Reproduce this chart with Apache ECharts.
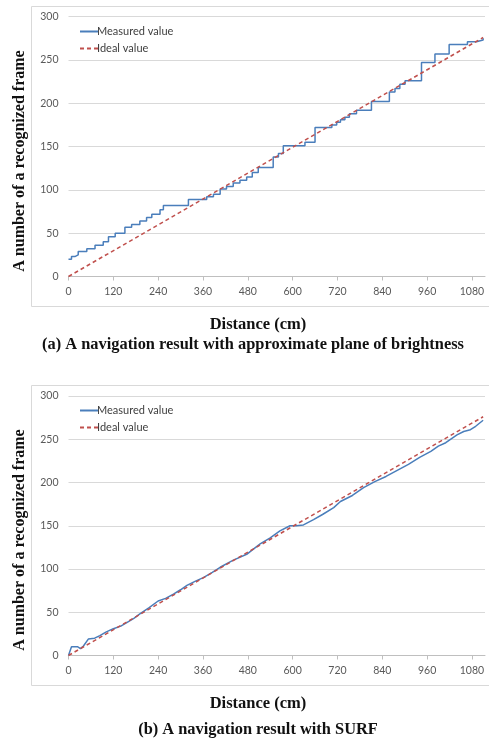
<!DOCTYPE html>
<html>
<head>
<meta charset="utf-8">
<script src="https://cdn.jsdelivr.net/npm/echarts@6/dist/echarts.min.js"></script>
<style>
  html, body { margin: 0; padding: 0; background: #fff; }
  #chart { width: 489px; height: 749px; }
</style>
</head>
<body>
<div id="chart"></div>
<script>
// x tick labels (cm)
const distanceTicks = [0, 120, 240, 360, 480, 600, 720, 840, 960, 1080];

// (a) approximate plane of brightness: measured steps (start of each level)
const distanceA = [0, 8, 17, 26, 49, 71, 93, 107, 125, 151, 169, 191, 209, 223, 245, 254,
  321, 370, 388, 406, 423, 441, 459, 477, 492, 508, 548, 562, 575, 633, 660,
  705, 718, 728, 740, 752, 771, 811, 859, 874, 887, 901, 945, 981, 1019, 1068, 1092, 1110];
const measuredA = [20, 23, 25, 29, 32, 36, 40, 46, 50, 57, 60, 64, 68, 72, 77, 82,
  89, 92, 95, 101, 104, 108, 111, 115, 120, 126, 138, 142, 151, 155, 172,
  175, 178, 181, 184, 188, 192, 202, 213, 217, 222, 226, 247, 257, 268, 271, 273, 275];

// (b) SURF: measured
const distanceB = [0, 8, 25, 32, 40, 53, 70, 84, 100, 120, 140, 156, 175, 191, 215, 240,
  260, 281, 300, 317, 340, 361, 385, 406, 440, 477, 495, 513, 540, 566, 593, 610,
  629, 656, 680, 710, 728, 760, 790, 820, 850, 880, 910, 940, 970, 990, 1010, 1040,
  1058, 1076, 1090, 1110];
const measuredB = [0, 10, 10, 8, 11, 19, 20, 23, 27, 31, 34, 38, 43, 48, 55, 63,
  66, 71, 76, 81, 86, 90, 96, 102, 110, 117, 123, 129, 136, 144, 150, 150,
  151, 157, 163, 171, 178, 185, 194, 201, 207, 214, 221, 229, 236, 242, 246, 255,
  259, 261, 265, 272];

// ideal value: one frame every 4 cm
const idealX = [0, 1110];
const idealY = [0, 276];

const pairs = (xs, ys) => xs.map((x, i) => [x, ys[i]]);

const chart = echarts.init(document.getElementById("chart"));

const blue = "#4a7ebb";
const red = "#c0504d";
const tickFont = { color: "#595959", fontSize: 10.5, fontFamily: "Lato" };
const serifBold = { fontFamily: "Liberation Serif", fontWeight: "bold", fill: "#111" };

const makeX = (gridIndex) => ({
  type: "value",
  gridIndex,
  min: 0,
  max: 1115,
  axisLine: { show: true, lineStyle: { color: "#bfbfbf", width: 1 } },
  axisTick: { show: true, length: 4, lineStyle: { color: "#bfbfbf" }, customValues: distanceTicks },
  axisLabel: { ...tickFont, margin: 10, customValues: distanceTicks, formatter: (v) => String(v) },
  splitLine: { show: false },
});

const makeY = (gridIndex) => ({
  type: "value",
  gridIndex,
  min: 0,
  max: 300,
  interval: 50,
  axisLine: { show: false },
  axisTick: { show: false },
  axisLabel: { ...tickFont, margin: 10 },
  splitLine: { show: true, lineStyle: { color: "#d9d9d9", width: 1 } },
});

const makeLegend = (top) => ({
  top,
  left: 74,
  orient: "vertical",
  itemGap: 6,
  itemWidth: 18,
  itemHeight: 10,
  data: ["Measured value", "Ideal value"],
  itemStyle: { opacity: 0 },
  textStyle: { color: "#404040", fontSize: 11, fontFamily: "Lato", padding: [0, 0, 0, -6] },
});

const option = {
  animation: false,
  grid: [
    { left: 68.5, top: 16.7, right: 4, height: 259.8 },
    { left: 68.5, top: 396, right: 4, height: 259.5 },
  ],
  xAxis: [makeX(0), makeX(1)],
  yAxis: [makeY(0), makeY(1)],
  legend: [makeLegend(21), makeLegend(400)],
  series: [
    {
      name: "Measured value",
      type: "line",
      xAxisIndex: 0,
      yAxisIndex: 0,
      step: "end",
      symbol: "none",
      data: pairs(distanceA, measuredA),
      lineStyle: { color: blue, width: 1.5 },
      itemStyle: { color: blue },
      z: 3,
    },
    {
      name: "Ideal value",
      type: "line",
      xAxisIndex: 0,
      yAxisIndex: 0,
      symbol: "none",
      data: pairs(idealX, idealY),
      lineStyle: { color: red, width: 1.5, type: [4, 3] },
      itemStyle: { color: red },
      z: 4,
    },
    {
      name: "Measured value",
      type: "line",
      xAxisIndex: 1,
      yAxisIndex: 1,
      symbol: "none",
      data: pairs(distanceB, measuredB),
      lineStyle: { color: blue, width: 1.5 },
      itemStyle: { color: blue },
      z: 3,
    },
    {
      name: "Ideal value",
      type: "line",
      xAxisIndex: 1,
      yAxisIndex: 1,
      symbol: "none",
      data: pairs(idealX, idealY),
      lineStyle: { color: red, width: 1.5, type: [4, 3] },
      itemStyle: { color: red },
      z: 4,
    },
  ],
  graphic: [
    // chart frames
    { type: "rect", shape: { x: 31.5, y: 6.5, width: 470, height: 300 }, style: { fill: "none", stroke: "#d9d9d9", lineWidth: 1 }, silent: true },
    { type: "rect", shape: { x: 31.5, y: 385.5, width: 470, height: 300 }, style: { fill: "none", stroke: "#d9d9d9", lineWidth: 1 }, silent: true },
    // axis titles
    { type: "text", x: 20, y: 161, rotation: Math.PI / 2, style: { text: "A number of a recognized frame", fontSize: 16, align: "center", verticalAlign: "middle", ...serifBold } },
    { type: "text", x: 20, y: 540, rotation: Math.PI / 2, style: { text: "A number of a recognized frame", fontSize: 16, align: "center", verticalAlign: "middle", ...serifBold } },
    { type: "text", x: 258, y: 325, style: { text: "Distance (cm)", fontSize: 16.5, align: "center", verticalAlign: "middle", ...serifBold } },
    { type: "text", x: 258, y: 704, style: { text: "Distance (cm)", fontSize: 16.5, align: "center", verticalAlign: "middle", ...serifBold } },
    // captions
    { type: "text", x: 253, y: 345, style: { text: "(a) A navigation result with approximate plane of brightness", fontSize: 16.4, align: "center", verticalAlign: "middle", ...serifBold } },
    { type: "text", x: 258, y: 730, style: { text: "(b) A navigation result with SURF", fontSize: 16.4, align: "center", verticalAlign: "middle", ...serifBold } },
  ],
};

chart.setOption(option);
</script>
</body>
</html>
